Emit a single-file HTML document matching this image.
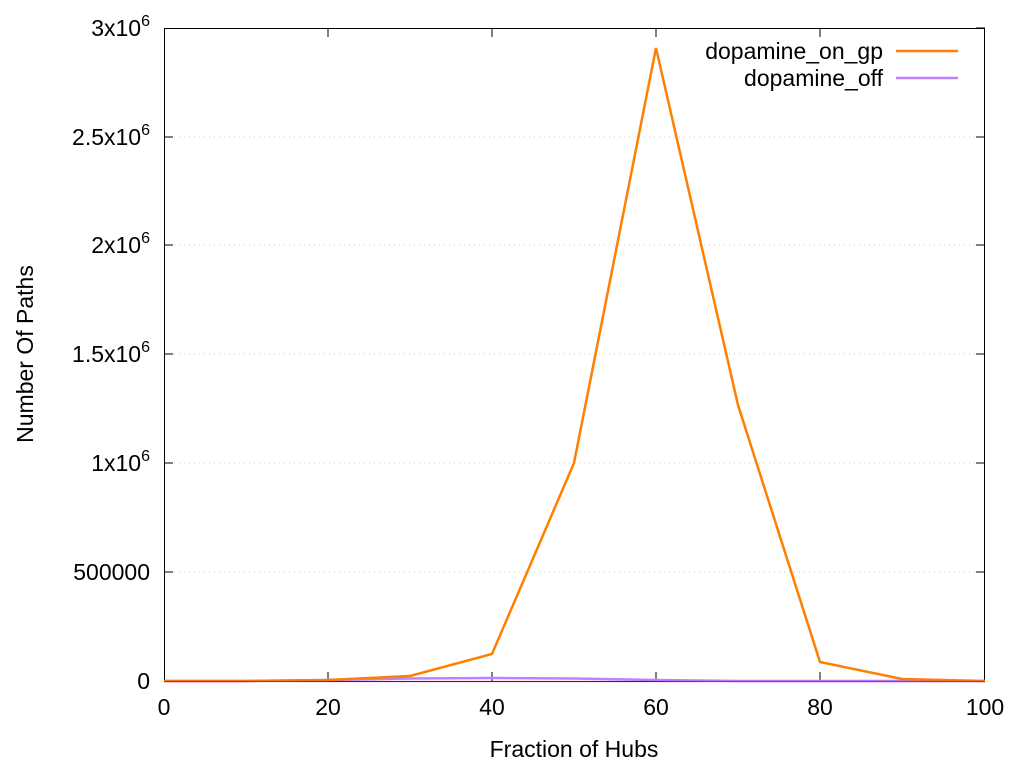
<!DOCTYPE html>
<html><head><style>body{margin:0;background:#fff}svg{display:block}text{font-family:"Liberation Sans",sans-serif;font-size:23px;fill:#000}</style></head><body>
<svg width="1024" height="768" viewBox="0 0 1024 768">
<g stroke="#c8c8c8" stroke-dasharray="1,4" stroke-width="1">
<line x1="164" y1="572" x2="985" y2="572"/><line x1="164" y1="463" x2="985" y2="463"/><line x1="164" y1="354" x2="985" y2="354"/><line x1="164" y1="245" x2="985" y2="245"/><line x1="164" y1="137" x2="985" y2="137"/>
</g>
<g stroke="#000" stroke-width="1">
<rect x="164.5" y="28.5" width="820" height="653" fill="none"/>
<path d="M164 572h9M164 463h9M164 354h9M164 245h9M164 137h9M985 572h-9M985 463h-9M985 354h-9M985 245h-9M985 137h-9M985 28h-9
M328 681v-9M492 681v-9M656 681v-9M820 681v-9M328 28v9M492 28v9M656 28v9M820 28v9"/>
</g>
<g text-anchor="end">
<text x="150" y="689">0</text><text x="150" y="580">500000</text>
<text x="150" y="471">1x10<tspan dy="-10" font-size="16">6</tspan></text>
<text x="150" y="362">1.5x10<tspan dy="-10" font-size="16">6</tspan></text>
<text x="150" y="253">2x10<tspan dy="-10" font-size="16">6</tspan></text>
<text x="150" y="145">2.5x10<tspan dy="-10" font-size="16">6</tspan></text>
<text x="150" y="36">3x10<tspan dy="-10" font-size="16">6</tspan></text>
</g>
<g text-anchor="middle">
<text x="164" y="715">0</text><text x="328" y="715">20</text><text x="492" y="715">40</text><text x="656" y="715">60</text><text x="820" y="715">80</text><text x="985" y="715">100</text>
<text x="574" y="757">Fraction of Hubs</text>
<text transform="translate(33,354) rotate(-90)">Number Of Paths</text>
</g>
<polyline fill="none" stroke="#c080ff" stroke-width="2.5" points="164,681 246,681 328,680 410,678.5 492,678 574,678.5 656,680 738,681 820,681 902,681 985,681"/>
<polyline fill="none" stroke="#ff7f00" stroke-width="2.5" stroke-linejoin="miter" points="164,681 246,681 328,680 410,676 492,654 574,463 656,48 738,405 820,662 902,679 985,681"/>
<line x1="164" y1="681.5" x2="985" y2="681.5" stroke="#9400d3" stroke-width="1.2" opacity="0.7"/>
<text x="883" y="59" text-anchor="end">dopamine_on_gp</text>
<text x="883" y="86" text-anchor="end">dopamine_off</text>
<line x1="896" y1="51" x2="958" y2="51" stroke="#ff7f00" stroke-width="2.5"/>
<line x1="896" y1="78" x2="958" y2="78" stroke="#c080ff" stroke-width="2.5"/>
</svg>
</body></html>
